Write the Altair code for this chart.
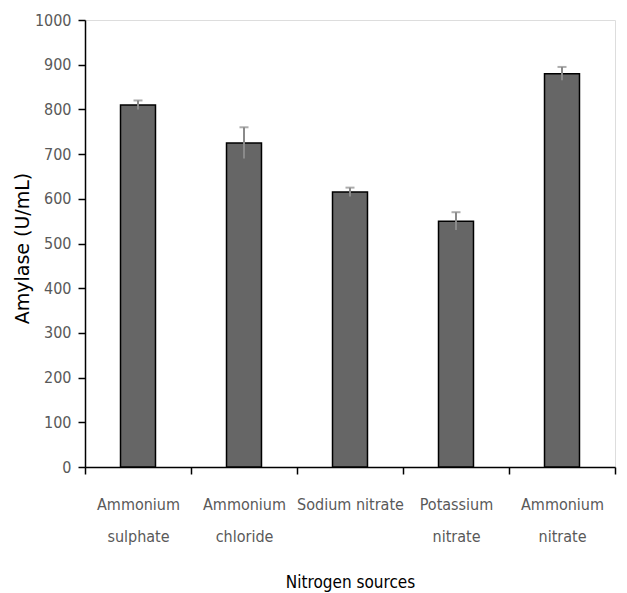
import altair as alt
import pandas as pd

# Amylase yield for each nitrogen source (mean and standard deviation)
sources = ["Ammonium\nsulphate", "Ammonium\nchloride", "Sodium nitrate",
           "Potassium\nnitrate", "Ammonium\nnitrate"]
amylase = [810, 725, 615, 550, 880]
sd = [10, 35, 10, 20, 15]

df = pd.DataFrame({"source": sources, "amylase": amylase, "sd": sd})
df["low"] = df["amylase"] - df["sd"]
df["high"] = df["amylase"] + df["sd"]

label_font = "DejaVu Sans Condensed"
label_color = "#595959"

x_enc = alt.X(
    "source:N",
    sort=sources,
    scale=alt.Scale(paddingInner=0, paddingOuter=0),
    title="Nitrogen sources",
    axis=alt.Axis(
        labelExpr="split(datum.label, '\\n')",
        labelAngle=0,
        labelFont=label_font,
        labelFontSize=16,
        labelColor=label_color,
        labelLineHeight=32,
        labelPadding=22,
        labelBaseline="top",
        tickBand="extent",
        tickSize=7,
        tickColor="black",
        tickWidth=1.5,
        domainColor="black",
        domainWidth=1.5,
        titleFont=label_font,
        titleFontSize=17,
        titleFontWeight="normal",
        titleColor="black",
        titlePadding=30,
    ),
)

y_enc = alt.Y(
    "amylase:Q",
    scale=alt.Scale(domain=[0, 1000], nice=False),
    title="Amylase (U/mL)",
    axis=alt.Axis(
        values=list(range(0, 1001, 100)),
        format="d",
        grid=False,
        labelFont=label_font,
        labelFontSize=16,
        labelColor=label_color,
        labelPadding=7,
        tickSize=7,
        tickColor="black",
        tickWidth=1.5,
        domainColor="black",
        domainWidth=1.5,
        titleFont="DejaVu Sans",
        titleFontSize=19,
        titleFontWeight="normal",
        titleColor="black",
        titleX=-63,
        titleY=228,
        titleBaseline="middle",
    ),
)

bars = alt.Chart(df).mark_bar(
    width=alt.RelativeBandSize(0.33),
    color="#666666",
    stroke="black",
    strokeWidth=1.5,
).encode(x=x_enc, y=y_enc)

err = alt.Chart(df).mark_rule(color="#8a8a8a", strokeWidth=2).encode(
    x=alt.X("source:N", sort=sources),
    y="low:Q",
    y2="high:Q",
)

caps = alt.Chart(df).mark_tick(
    color="#8a8a8a", thickness=2, size=9, orient="horizontal"
).encode(
    x=alt.X("source:N", sort=sources),
    y="high:Q",
)

chart = (
    alt.layer(bars, err, caps)
    .properties(
        width=530,
        height=447,
        autosize=alt.AutoSizeParams(type="none"),
        padding={"left": 85, "top": 20, "right": 12, "bottom": 126},
    )
    .configure_view(stroke=None)
    .configure(background="white")
)

chart.save("out.html", embed_options={"renderer": "svg", "actions": False})
